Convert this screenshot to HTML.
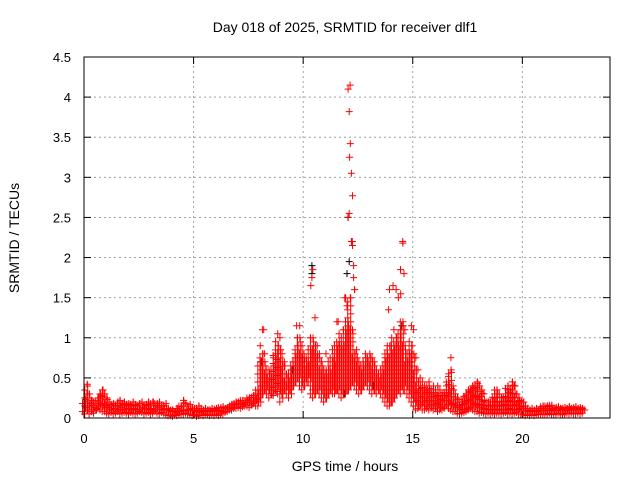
<!DOCTYPE html>
<html><head><meta charset="utf-8"><style>
html,body{margin:0;padding:0;background:#fff}
svg{display:block;font-family:"Liberation Sans",sans-serif}
</style></head><body>
<svg id="chart" width="640" height="480" viewBox="0 0 640 480" xmlns="http://www.w3.org/2000/svg">
<rect width="640" height="480" fill="#fff"/>
<text x="345" y="32" font-size="14" text-anchor="middle">Day 018 of 2025, SRMTID for receiver dlf1</text>
<text x="345" y="471" font-size="14" text-anchor="middle">GPS time / hours</text>
<text x="19" y="238" font-size="14" text-anchor="middle" transform="rotate(-90 19 238)">SRMTID / TECUs</text>
<g id="grid"></g><g id="ticks"></g><g id="marks"></g>
<rect x="84" y="57" width="526" height="361" fill="none" stroke="#000" stroke-width="1"/>
</svg>
<script>
const xTicks=[0,5,10,15,20];
const yTicks=[0,0.5,1,1.5,2,2.5,3,3.5,4,4.5];
const yTickLabels=["0","0.5","1","1.5","2","2.5","3","3.5","4","4.5"];
const loStart=0;
const lowVals=[.08,.05,.1,.05,.08,.06,.1,.12,.1,.08, .08,.06,.05,.07,.05,.06,.08,.05,.06,.07, .06,.05,.07,.06,.05,.06,.08,.07,.05,.06, .07,.05,.06,.08,.06,.05,.07,.06,.04,.03, .03,.02,.04,.03,.05,.04,.05,.06,.05,.04, .03,.04,.02,.03,.04,.03,.05,.04,.03,.04, .03,.04,.03,.05,.05,.07,.08,.1,.1,.12, .12,.13,.12,.14,.15,.15,.13,.16,.18,.15, .15,.25,.3,.35,.3,.25,.3,.28,.35,.3, .2,.3,.35,.3,.25,.35,.4,.45,.5,.4, .35,.4,.5,.45,.3,.25,.3,.35,.3,.25, .2,.25,.3,.35,.3,.3,.35,.3,.25,.3, .3,.35,.4,.45,.4,.35,.3,.35,.4,.45, .4,.35,.3,.35,.3,.35,.3,.25,.2,.15, .15,.2,.25,.3,.35,.3,.4,.35,.3,.25, .2,.15,.1,.12,.15,.1,.1,.12,.1,.12, .1,.12,.08,.1,.1,.12,.15,.12,.1,.08, .08,.06,.05,.06,.07,.08,.1,.12,.1,.08, .08,.06,.07,.06,.05,.06,.05,.06,.05,.06, .06,.05,.06,.07,.05,.06,.05,.06,.07,.05, .05,.04,.03,.04,.03,.04,.03,.04,.05,.04, .04,.05,.04,.06,.05,.04,.05,.06,.05,.04, .05,.06,.05,.06,.05,.05,.06,.05,.06];
const highVals=[.25,.42,.3,.22,.2,.18,.25,.3,.35,.3, .25,.2,.15,.18,.15,.2,.22,.18,.2,.17, .18,.15,.2,.17,.15,.18,.2,.15,.17,.2, .18,.2,.15,.18,.2,.16,.15,.18,.12,.1, .1,.08,.12,.1,.15,.22,.18,.15,.17,.12, .12,.1,.15,.12,.1,.12,.1,.1,.12,.11, .12,.1,.13,.14,.12,.13,.15,.17,.18,.2, .2,.2,.22,.2,.22,.25,.25,.28,.3,.35, .9,1.1,.8,.6,.6,.55,.75,.95,1.05,1.0, .8,.7,.55,.5,.6,.7,.8,1.0,1.15,.9, .8,.75,.7,1.0,1.85,1.25,.9,.8,.7,.6, .8,.7,.6,.85,.8,1.2,1.05,1.0,1.1,1.5, 2.5,4.15,2.2,1.6,.85,.7,.65,.7,.8,.75, .8,.75,.7,.6,.55,.6,.65,.75,.9,1.6, 1.0,1.1,1.6,1.5,1.85,2.2,1.1,.8,.95,1.15, 1.1,.75,.6,.5,.45,.4,.4,.45,.35,.4, .35,.4,.35,.3,.3,.4,.55,.75,.4,.3, .25,.2,.2,.25,.3,.35,.35,.4,.4,.45, .4,.35,.3,.2,.2,.2,.2,.3,.35,.3, .25,.2,.3,.4,.35,.45,.4,.3,.25,.2, .2,.15,.12,.1,.12,.1,.12,.1,.12,.15, .12,.15,.14,.16,.12,.13,.14,.12,.12,.13, .12,.14,.12,.13,.14,.12,.13,.12,.1];
const midStart=8;
const midVals=[.7,.8,.7,.55,.55,.5,.65,.8,.9,.85, .7,.65,.5,.45,.55,.65,.75,.9,1.0,.8, .75,.7,.65,.85,1.0,.9,.8,.75,.65,.55, .6,.6,.55,.75,.7,.9,.95,.9,.9,1.1, 1.2,1.5,1.1,.8,.75,.65,.6,.65,.75,.7, .75,.7,.65,.55,.5,.55,.6,.7,.8,.9, .8,.9,1.0,.9,1.1,1.2,.9,.7,.8,.9, .8,.6,.45,.4,.38,.35,.35,.4,.3,.35, .3,.35,.3,.28,.28,.35,.45,.6,.35,.25];
const spikeT=[12.05,12.1,12.15,12.12,12.2,12.25,12.1,12.2,12.25,12.3,12.3,12.35,10.4,10.35,14.55,14.6,14.45,14.1,13.9,11.9,12.0,11.6,8.2,9.7];
const spikeV=[4.1,3.82,3.42,3.25,3.05,2.77,2.55,2.2,2.15,1.9,1.75,1.6,1.75,1.65,2.18,1.8,1.55,1.65,1.35,1.5,1.4,1.2,1.1,1.15];
const blackT=[10.4,10.4,12.05,12.1,12.0,14.5,11.9,8.1,9.5,13.2];
const blackV=[1.9,1.8,2.5,1.95,1.8,1.15,0.3,0.7,0.6,0.4];
const X0=84,X1=610,Y0=418,Y1=57,XMAX=24,YMAX=4.5;
const xs=v=>X0+(X1-X0)*v/XMAX, ys=v=>Y0-(Y0-Y1)*v/YMAX;
const NS="http://www.w3.org/2000/svg";
const grid=document.getElementById('grid'),ticks=document.getElementById('ticks'),marks=document.getElementById('marks');
function mk(t,a,p){const e=document.createElementNS(NS,t);for(const k in a)e.setAttribute(k,a[k]);p.appendChild(e);return e;}
yTicks.forEach((v,i)=>{const y=ys(v);
 if(v>0&&v<YMAX){const g=mk('line',{x1:X0,x2:X1,y1:y,y2:y,stroke:'#a0a0a0','stroke-dasharray':'2,3'},grid);
 
 }
 mk('line',{x1:X0,x2:X0+7,y1:y,y2:y,stroke:'#000'},ticks);mk('line',{x1:X1-7,x2:X1,y1:y,y2:y,stroke:'#000'},ticks);
 const t=mk('text',{x:71,y:y+5,'font-size':13,'text-anchor':'end'},ticks);t.textContent=yTickLabels[i];
 
 });
xTicks.forEach(v=>{const x=xs(v);
 if(v>0){const g=mk('line',{x1:x,x2:x,y1:Y0,y2:Y1,stroke:'#a0a0a0','stroke-dasharray':'2,3'},grid);
 
 }
 mk('line',{x1:x,x2:x,y1:Y0,y2:Y0-7,stroke:'#000'},ticks);mk('line',{x1:x,x2:x,y1:Y1,y2:Y1+7,stroke:'#000'},ticks);
 const t=mk('text',{x:x,y:443,'font-size':13,'text-anchor':'middle'},ticks);t.textContent=String(v);
 
 });
function plus(d,x,y){return d+`M${(x-3.5).toFixed(1)} ${y.toFixed(1)}h7M${x.toFixed(1)} ${(y-3.5).toFixed(1)}v7`;}
let db='';blackT.forEach((t,i)=>{db=plus(db,xs(t),ys(blackV[i]));});
const pb=mk('path',{d:db,stroke:'#000',fill:'none','stroke-width':1},marks);


let dr='';
lowVals.forEach((v,i)=>{
  const t=loStart+i*0.1, mi=i-midStart*10;
  const hi=highVals[i];
  const top=(mi>=0&&mi<midVals.length)?Math.min(midVals[mi],hi):hi;
  const yLo=ys(v), yTop=ys(top);
  let k=0;
  for(let y=yLo;y>=yTop-0.1;y-=4){dr=plus(dr,xs(t)+(k%2?1.5:-1.5),y);k++;}
  dr=plus(dr,xs(t+0.05),yTop);
  dr=plus(dr,xs(t+0.04),ys(hi));
});
spikeT.forEach((t,i)=>{dr=plus(dr,xs(t),ys(spikeV[i]));});
const pr=mk('path',{d:dr,stroke:'#ff0000',fill:'none','stroke-width':1},marks);


</script>
</body></html>
